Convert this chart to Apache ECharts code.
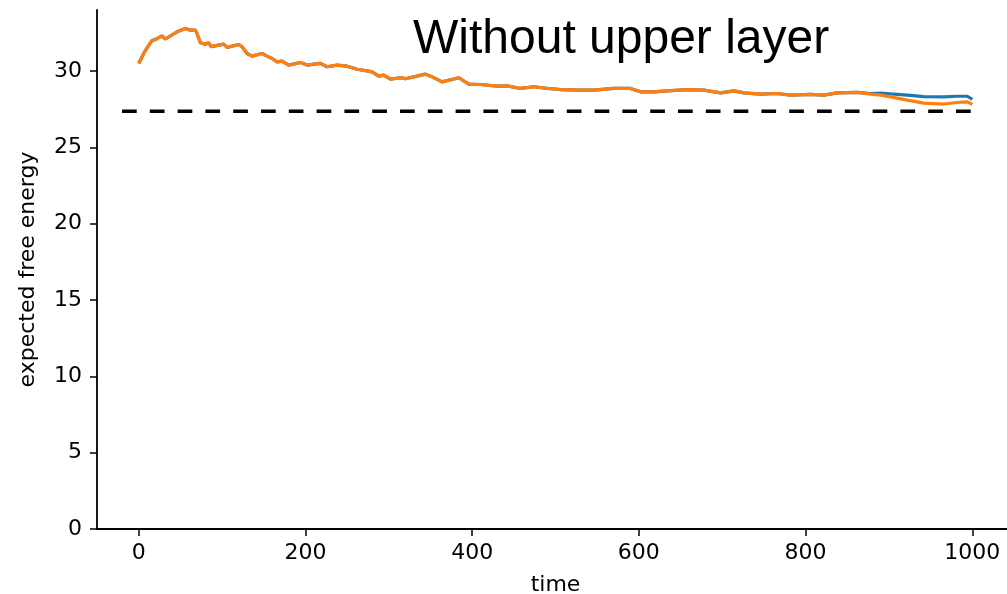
<!DOCTYPE html>
<html>
<head>
<meta charset="utf-8">
<script src="https://cdn.jsdelivr.net/npm/echarts@6/dist/echarts.min.js"></script>
<style>
html,body{margin:0;padding:0;background:#fff;overflow:hidden;}
#chart{width:1007px;height:594px;}
</style>
</head>
<body>
<div id="chart"></div>
<script>
const titleText = "Without upper layer";
const xName = "time";
const yName = "expected free energy";
const xTicks = [0, 200, 400, 600, 800, 1000];
const yTicks = [0, 5, 10, 15, 20, 25, 30];
const times = [0,6,11,16,20,28,32,46,56,62,68,70,74,80,84,87,102,106,120,124,130,136,148,154,160,166,172,180,194,202,218,226,238,250,262,274,280,288,294,302,314,320,344,352,364,384,396,410,430,442,458,474,490,506,530,546,570,590,602,618,634,658,678,698,714,726,746,766,782,806,822,838,862,878,890,902,922,942,966,981,994,1000];
const orangeVals = [30.5,31.15,31.6,32.0,32.07,32.3,32.1,32.57,32.79,32.68,32.68,32.46,31.85,31.76,31.85,31.6,31.76,31.55,31.74,31.59,31.15,30.98,31.15,30.98,30.82,30.6,30.65,30.39,30.56,30.39,30.5,30.28,30.39,30.32,30.12,30.01,29.95,29.67,29.73,29.47,29.56,29.5,29.8,29.62,29.29,29.56,29.14,29.12,29.01,29.03,28.86,28.97,28.86,28.79,28.75,28.75,28.86,28.86,28.64,28.64,28.7,28.79,28.75,28.57,28.7,28.57,28.49,28.53,28.42,28.47,28.42,28.57,28.6,28.49,28.42,28.31,28.1,27.9,27.84,27.94,27.98,27.82];
const blueVals = [30.5,31.15,31.6,32.0,32.07,32.3,32.1,32.57,32.79,32.68,32.68,32.46,31.85,31.76,31.85,31.6,31.76,31.55,31.74,31.59,31.15,30.98,31.15,30.98,30.82,30.6,30.65,30.39,30.56,30.39,30.5,30.28,30.39,30.32,30.12,30.01,29.95,29.67,29.73,29.47,29.56,29.5,29.8,29.62,29.29,29.56,29.14,29.12,29.01,29.03,28.86,28.97,28.86,28.79,28.75,28.75,28.86,28.86,28.64,28.64,28.7,28.79,28.75,28.57,28.7,28.57,28.49,28.53,28.42,28.47,28.42,28.57,28.6,28.53,28.55,28.5,28.42,28.33,28.31,28.35,28.35,28.15];
const refLevel = 27.37;
const refRange = [-20, 1000];

const chart = echarts.init(document.getElementById('chart'), null, {renderer: 'canvas'});
const zip = (xs, ys) => xs.map((x, i) => [x, ys[i]]);
const tickFont = {fontFamily: 'DejaVu Sans', fontSize: 22, color: '#000'};
chart.setOption({
  animation: false,
  backgroundColor: '#fff',
  graphic: [{
    type: 'text', left: 413, top: 16,
    style: {text: titleText, fontFamily: 'Liberation Sans', fontSize: 48, fill: '#000'}
  }],
  grid: {left: 97, top: 10, width: 917, height: 519, containLabel: false, outerBoundsMode: 'none'},
  xAxis: {
    type: 'value', min: -50, max: 1050,
    name: xName, nameLocation: 'middle', nameGap: 45,
    nameTextStyle: tickFont,
    axisLine: {show: true, onZero: false, lineStyle: {color: '#000', width: 1.8}},
    axisTick: {show: true, length: 7, customValues: xTicks, lineStyle: {color: '#000', width: 1.5}},
    axisLabel: Object.assign({customValues: xTicks, margin: 13, formatter: v => String(v)}, tickFont),
    splitLine: {show: false}
  },
  yAxis: {
    type: 'value', min: 0, max: 34,
    name: yName, nameLocation: 'middle', nameGap: 58, nameRotate: 90,
    nameTextStyle: tickFont,
    axisLine: {show: true, onZero: false, lineStyle: {color: '#000', width: 1.8}},
    axisTick: {show: true, length: 7, customValues: yTicks, lineStyle: {color: '#000', width: 1.5}},
    axisLabel: Object.assign({customValues: yTicks, margin: 15, formatter: v => String(v)}, tickFont),
    splitLine: {show: false}
  },
  series: [
    {type: 'line', data: zip(times, blueVals), showSymbol: false, symbol: 'none',
     lineStyle: {color: '#1f77b4', width: 3.2}, z: 2},
    {type: 'line', data: zip(times, orangeVals), showSymbol: false, symbol: 'none',
     lineStyle: {color: '#ff7f0e', width: 3.2}, z: 3},
    {type: 'line', data: refRange.map(x => [x, refLevel]), showSymbol: false, symbol: 'none',
     lineStyle: {color: '#000', width: 3.5, type: [14.7, 13.1]}, z: 4}
  ]
});
</script>
</body>
</html>
